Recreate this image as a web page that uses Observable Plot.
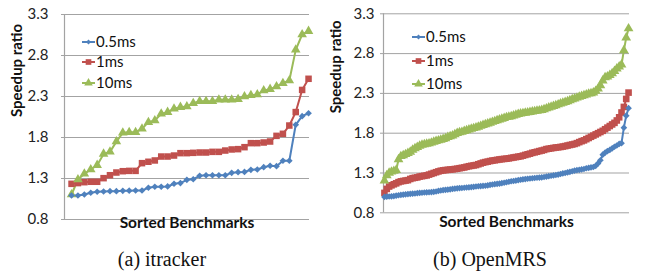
<!DOCTYPE html>
<html><head><meta charset="utf-8">
<script src="https://cdn.jsdelivr.net/npm/d3@7"></script>
<script src="https://cdn.jsdelivr.net/npm/@observablehq/plot@0.6"></script>
<style>
body{margin:0;background:#fff;}
#wrap{position:relative;width:652px;height:274px;overflow:hidden;}
.panel{position:absolute;top:0;}
.cap{position:absolute;top:248px;font-family:"Liberation Serif","Times New Roman",serif;font-size:20px;color:#111;white-space:nowrap;transform:translateX(-50%);}
.leg{position:absolute;top:0;left:0;}
</style></head><body>
<div id="wrap"></div>
<script>
const seriesNames = ["0.5ms", "1ms", "10ms"];
const seriesColors = ["#4F81BD", "#C0504D", "#9BBB59"];
const seriesSymbols = ["diamond2", "square", "triangle"];
const yTicks = [0.8, 1.3, 1.8, 2.3, 2.8, 3.3];
const xLabel = "Sorted Benchmarks";
const yLabel = "Speedup ratio";
const captions = ["(a) itracker", "(b) OpenMRS"];

// (a) itracker
const itrackerBlue = [1.093,1.093,1.105,1.126,1.138,1.142,1.146,1.146,1.15,1.152,1.154,1.154,1.187,1.199,1.199,1.203,1.236,1.244,1.284,1.291,1.333,1.34,1.34,1.34,1.34,1.369,1.377,1.38,1.406,1.41,1.438,1.455,1.45,1.516,1.516,1.955,2.06,2.096];
const itrackerRed = [1.235,1.244,1.255,1.26,1.26,1.304,1.34,1.373,1.389,1.393,1.393,1.487,1.504,1.52,1.568,1.568,1.58,1.609,1.609,1.613,1.617,1.617,1.625,1.625,1.641,1.654,1.658,1.682,1.731,1.731,1.739,1.751,1.82,1.845,1.946,2.11,2.38,2.516];
const itrackerGreen = [1.105,1.288,1.357,1.41,1.463,1.60,1.625,1.75,1.857,1.865,1.865,1.906,1.987,2.007,2.089,2.109,2.15,2.17,2.178,2.218,2.243,2.243,2.243,2.26,2.26,2.26,2.267,2.30,2.316,2.324,2.373,2.39,2.422,2.462,2.495,2.869,3.056,3.097];

// (b) OpenMRS
const openmrsBlue = [1.00,1.003,1.005,1.007,1.01,1.015,1.02,1.025,1.028,1.032,
1.035,1.038,1.04,1.043,1.047,1.05,1.052,1.055,1.057,1.058,
1.06,1.063,1.068,1.075,1.08,1.085,1.089,1.092,1.095,1.1,
1.103,1.107,1.11,1.112,1.115,1.118,1.12,1.123,1.126,1.13,
1.133,1.136,1.138,1.14,1.145,1.15,1.155,1.16,1.164,1.167,
1.172,1.178,1.184,1.19,1.196,1.2,1.205,1.21,1.215,1.22,
1.224,1.228,1.231,1.234,1.237,1.24,1.242,1.245,1.25,1.255,
1.26,1.265,1.27,1.275,1.28,1.288,1.295,1.3,1.307,1.315,
1.322,1.33,1.336,1.34,1.345,1.35,1.36,1.365,1.37,1.375,
1.39,1.42,1.46,1.53,1.555,1.575,1.59,1.61,1.63,1.645,
1.665,1.675,1.87,2.02,2.115];
const openmrsRed = [1.05,1.10,1.13,1.145,1.158,1.17,1.185,1.195,1.20,1.205,
1.21,1.225,1.235,1.24,1.245,1.255,1.26,1.265,1.27,1.28,
1.29,1.30,1.31,1.32,1.328,1.333,1.337,1.34,1.343,1.346,
1.35,1.354,1.36,1.365,1.37,1.378,1.385,1.39,1.395,1.40,
1.41,1.42,1.43,1.437,1.443,1.45,1.456,1.46,1.465,1.47,
1.474,1.477,1.48,1.484,1.49,1.495,1.50,1.505,1.51,1.518,
1.527,1.535,1.543,1.553,1.56,1.567,1.575,1.582,1.59,1.60,
1.605,1.61,1.615,1.62,1.623,1.627,1.632,1.638,1.645,1.652,
1.658,1.665,1.675,1.688,1.70,1.71,1.725,1.74,1.755,1.77,
1.785,1.80,1.815,1.83,1.85,1.87,1.89,1.91,1.93,1.96,
2.00,2.06,2.13,2.23,2.31];
const openmrsGreen = [1.205,1.27,1.30,1.315,1.325,1.335,1.47,1.51,1.52,1.535,
1.55,1.565,1.59,1.61,1.625,1.64,1.652,1.66,1.665,1.67,
1.68,1.69,1.70,1.708,1.715,1.725,1.735,1.75,1.76,1.77,
1.785,1.80,1.81,1.815,1.825,1.835,1.845,1.855,1.862,1.87,
1.88,1.89,1.90,1.91,1.92,1.93,1.94,1.95,1.96,1.97,
1.98,1.99,2.0,2.005,2.01,2.02,2.03,2.04,2.045,2.05,
2.055,2.06,2.065,2.07,2.075,2.08,2.085,2.09,2.10,2.11,
2.12,2.13,2.14,2.15,2.16,2.17,2.18,2.19,2.20,2.213,
2.225,2.235,2.245,2.255,2.265,2.275,2.285,2.295,2.30,2.31,
2.33,2.36,2.40,2.46,2.50,2.51,2.53,2.55,2.58,2.61,
2.635,2.66,2.84,3.00,3.115];

const FONT = "Lato, 'Open Sans', sans-serif";
const GRID = "#a3a3a3";

function makePanel(cfg) {
  const data = [];
  cfg.series.forEach((arr, k) => arr.forEach((v, i) => data.push({i, v, s: seriesNames[k]})));
  const n = cfg.series[0].length;
  const xDomain = [-cfg.padL, n - 1 + cfg.padR];
  return Plot.plot({
    width: 326, height: 240,
    marginLeft: cfg.left, marginRight: 326 - cfg.right, marginTop: cfg.top, marginBottom: 240 - cfg.bottom,
    style: {fontFamily: FONT, background: "transparent"},
    x: {domain: xDomain, axis: null},
    y: {domain: [0.8, 3.3], axis: null},
    color: {domain: seriesNames, range: seriesColors},
    symbol: {domain: seriesNames, range: seriesSymbols},
    marks: [
      Plot.gridY(yTicks, {stroke: GRID, strokeOpacity: 1, strokeWidth: 1}),
      Plot.axisY(yTicks, {tickSize: 3, stroke: GRID, tickPadding: cfg.tickPad, tickFormat: d => d.toFixed(1), fontSize: 15, fill: "#222", label: null}),
      Plot.ruleX([xDomain[0]], {stroke: GRID, strokeWidth: 1.2}),
      Plot.line(data, {x: "i", y: "v", z: "s", stroke: "s", strokeWidth: 2}),
      Plot.dot(data, {x: "i", y: "v", symbol: "s", fill: "s", r: d => d.s === "0.5ms" ? cfg.rB : d.s === "1ms" ? cfg.rR : cfg.rG, stroke: "none"}),
      Plot.text([xLabel], {frameAnchor: "bottom", dy: cfg.xlabDy, fontSize: 15.5, fontWeight: "bold", fill: "#111"}),
      Plot.text([yLabel], {frameAnchor: "left", dx: -47, rotate: -90, fontSize: 15, fontWeight: "bold", fill: "#111"})
    ]
  });
}

function legend(x0, rows) {
  const svg = d3.create("svg").attr("class", "leg").attr("width", 326).attr("height", 120);
  seriesNames.forEach((name, k) => {
    const y = rows[k];
    svg.append("line").attr("x1", x0).attr("x2", x0 + 13).attr("y1", y).attr("y2", y)
      .attr("stroke", seriesColors[k]).attr("stroke-width", 2);
    const sym = [d3.symbolDiamond2, d3.symbolSquare, d3.symbolTriangle][k];
    const size = [16, 32, 32][k];
    svg.append("path").attr("d", d3.symbol(sym, size)()).attr("transform", `translate(${x0 + 6.5},${y})`).attr("fill", seriesColors[k]);
    svg.append("text").attr("x", x0 + 14).attr("y", y).attr("dy", "0.35em")
      .attr("font-family", FONT).attr("font-size", 15).attr("fill", "#111").text(name);
  });
  return svg.node();
}

const wrap = document.getElementById("wrap");
const panels = [
  {offset: 0, series: [itrackerBlue, itrackerRed, itrackerGreen], left: 64, right: 309, top: 14, bottom: 219, padL: 1.1, padR: 0.15, tickPad: 13, xlabDy: 8, rB: 2.2, rR: 3.3, rG: 3.1, legX: 82, legRows: [42, 62, 83], cap: 162},
  {offset: 326, series: [openmrsBlue, openmrsRed, openmrsGreen], left: 57, right: 303, top: 13.3, bottom: 212.3, padL: 0.4, padR: 0.4, tickPad: 6, xlabDy: 14.5, rB: 2.2, rR: 3.4, rG: 3.2, legX: 86, legRows: [37, 61, 84], cap: 490}
];
panels.forEach((p, k) => {
  const div = document.createElement("div");
  div.className = "panel";
  div.style.left = p.offset + "px";
  div.style.width = "326px";
  div.appendChild(makePanel(p));
  div.appendChild(legend(p.legX, p.legRows));
  wrap.appendChild(div);
  const cap = document.createElement("div");
  cap.className = "cap";
  cap.style.left = p.cap + "px";
  cap.textContent = captions[k];
  wrap.appendChild(cap);
});
</script>
</body></html>
